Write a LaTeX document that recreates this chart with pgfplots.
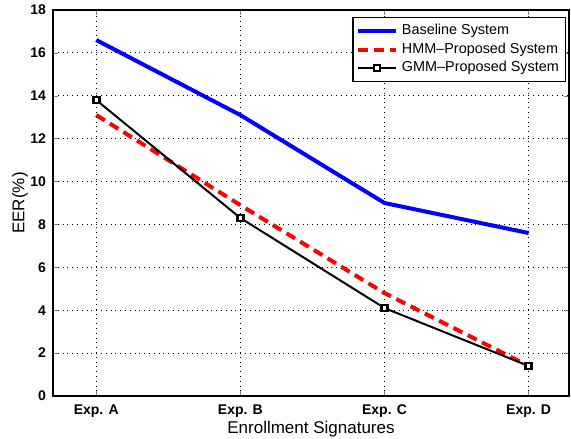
\documentclass[border=0pt]{standalone}
\usepackage{fontspec}
\setmainfont{Liberation Sans}
\usepackage{pgfplots}
\pgfplotsset{compat=1.18}

\begin{document}
\begin{tikzpicture}
  \begin{axis}[
      at={(0,0)}, anchor=south west,
      scale only axis,
      width=258pt, height=193pt,
      xmin=-0.3, xmax=3.28,
      ymin=0, ymax=18,
      xtick={0,1,2,3},
      xticklabels={Exp. A, Exp. B, Exp. C, Exp. D},
      ytick={0,2,...,18},
      tick align=inside,
      tick pos=both,
      major tick length=2.5pt,
      grid=major,
      major grid style={black, dotted, line width=0.5pt},
      axis line style={black, line width=0.6pt},
      /pgf/number format/assume math mode=true,
      ticklabel style={font=\fontsize{7}{8}\selectfont\bfseries},
      xticklabel style={yshift=-1pt},
      xlabel={Enrollment Signatures},
      ylabel={EER(\%)},
      label style={font=\fontsize{8.5}{10}\selectfont},
      xlabel style={at={(axis description cs:0.5,0)}, anchor=north, yshift=-9pt},
      ylabel style={at={(axis description cs:0,0.5)}, yshift=9pt},
      legend style={at={(rel axis cs:0.995,0.982)}, anchor=north east,
        font=\fontsize{7.2}{8}\selectfont, draw=black, line width=0.6pt,
        inner sep=1.5pt, row sep=-1.5pt, cells={anchor=west}},
      legend cell align=left,
      legend image code/.code={
        \draw[#1] (0cm,0cm) -- (19pt,0cm);
        \draw[#1, mark repeat=2, mark phase=2] plot coordinates {(0pt,0pt) (9.5pt,0pt) (19pt,0pt)};
      },
    ]
    \addplot[blue, line width=2pt] coordinates {
      (0,16.6) (1,13.1) (2,9.0) (3,7.6)
    };
    \addlegendentry{Baseline System}
    \addplot[red, line width=2pt, dash pattern=on 5pt off 3pt] coordinates {
      (0,13.1) (1,8.9) (2,4.8) (3,1.4)
    };
    \addlegendentry{HMM--Proposed System}
    \addplot[black, line width=1pt, mark=square*,
      mark options={solid, fill=white, line width=1.3pt}, mark size=1.5pt] coordinates {
      (0,13.8) (1,8.3) (2,4.1) (3,1.4)
    };
    \addlegendentry{GMM--Proposed System}
  \end{axis}
  \pgfresetboundingbox
  \path[use as bounding box] (-26.5pt,-21pt) rectangle (259pt,198pt);
\end{tikzpicture}
\end{document}
